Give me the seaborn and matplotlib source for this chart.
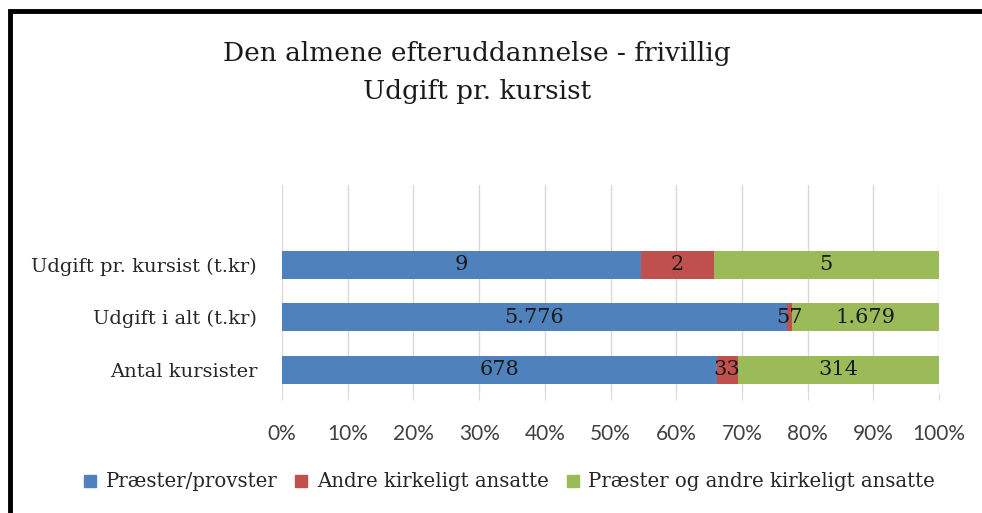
import matplotlib
matplotlib.use("Agg")
import matplotlib.pyplot as plt
import matplotlib.patches as mpatches
from matplotlib.lines import Line2D
import numpy as np
import pandas as pd
import seaborn as sb

# data
categories = ["Udgift pr. kursist (t.kr)", "Udgift i alt (t.kr)", "Antal kursister"]
praester = [5776 / 678, 5776, 678]
andre = [57 / 33, 57, 33]
begge = [1679 / 314, 1679, 314]
series_names = ["Præster/provster", "Andre kirkeligt ansatte", "Præster og andre kirkeligt ansatte"]
colors = ["#4F81BD", "#C0504D", "#9BBB59"]
xticks = [0, 10, 20, 30, 40, 50, 60, 70, 80, 90, 100]

df = pd.DataFrame({"kategori": categories, series_names[0]: praester,
                   series_names[1]: andre, series_names[2]: begge})
vals = df[series_names].to_numpy(dtype=float)
pct = vals / vals.sum(axis=1, keepdims=True) * 100
cum = np.cumsum(pct, axis=1)

serif = ["DejaVu Serif"]
sans = ["Lato", "DejaVu Sans"]

fig = plt.figure(figsize=(9.82, 5.13), dpi=100)
ax = fig.add_axes([282 / 982, 1 - 393 / 513, 657 / 982, 208 / 513])

# stacked bars: draw cumulative totals from the back to the front
for i in [2, 1, 0]:
    d = pd.DataFrame({"kategori": categories, "v": cum[:, i]})
    sb.barplot(data=d, x="v", y="kategori", orient="h", color=colors[i],
               saturation=1, width=0.53, ax=ax, zorder=2, edgecolor="none")

def fmt(v):
    return f"{round(v):,}".replace(",", ".")

for r in range(len(categories)):
    for i in range(3):
        left = cum[r, i] - pct[r, i]
        ax.text(left + pct[r, i] / 2, r, fmt(vals[r, i]), ha="center", va="center",
                fontsize=15, family=serif, color="#1a1a1a", zorder=3)

ax.set_xlim(0, 100)
ax.set_ylim(2.44, -1.52)
ax.set_xticks(xticks)
ax.set_xticklabels([f"{t}%" for t in xticks], family=sans, fontsize=15, color="#404040")
ax.set_yticks(range(len(categories)))
ax.set_yticklabels(categories, family=serif, fontsize=14, color="#262626")
ax.set_xlabel("")
ax.set_ylabel("")
ax.grid(axis="x", color="#d9d9d9", lw=1, zorder=0)
ax.set_axisbelow(True)
for s in ax.spines.values():
    s.set_visible(False)
ax.tick_params(axis="x", length=5, color="#d9d9d9", pad=17)
ax.tick_params(axis="y", length=0, pad=18)

fig.text(0.486, 1 - 53 / 513, "Den almene efteruddannelse - frivillig", ha="center",
         va="center", fontsize=19, family=serif, color="#1a1a1a")
fig.text(0.486, 1 - 92 / 513, "Udgift pr. kursist", ha="center", va="center",
         fontsize=19, family=serif, color="#1a1a1a")

handles = [Line2D([], [], marker="s", ls="none", color=c, markersize=9) for c in colors]
fig.legend(handles, series_names, loc="center", bbox_to_anchor=(0.518, 1 - 482 / 513),
           ncol=3, frameon=False, prop={"family": serif, "size": 14.2},
           handlelength=0.8, handletextpad=0.4, columnspacing=0.8, labelcolor="#262626")

# black frame on top and left
fig.add_artist(mpatches.Rectangle((10 / 982, -0.1), 1.2, 1.1 - 11.5 / 513,
                                  transform=fig.transFigure, fill=False, lw=3.5,
                                  edgecolor="black"))

fig.savefig("out.png", dpi=100)
